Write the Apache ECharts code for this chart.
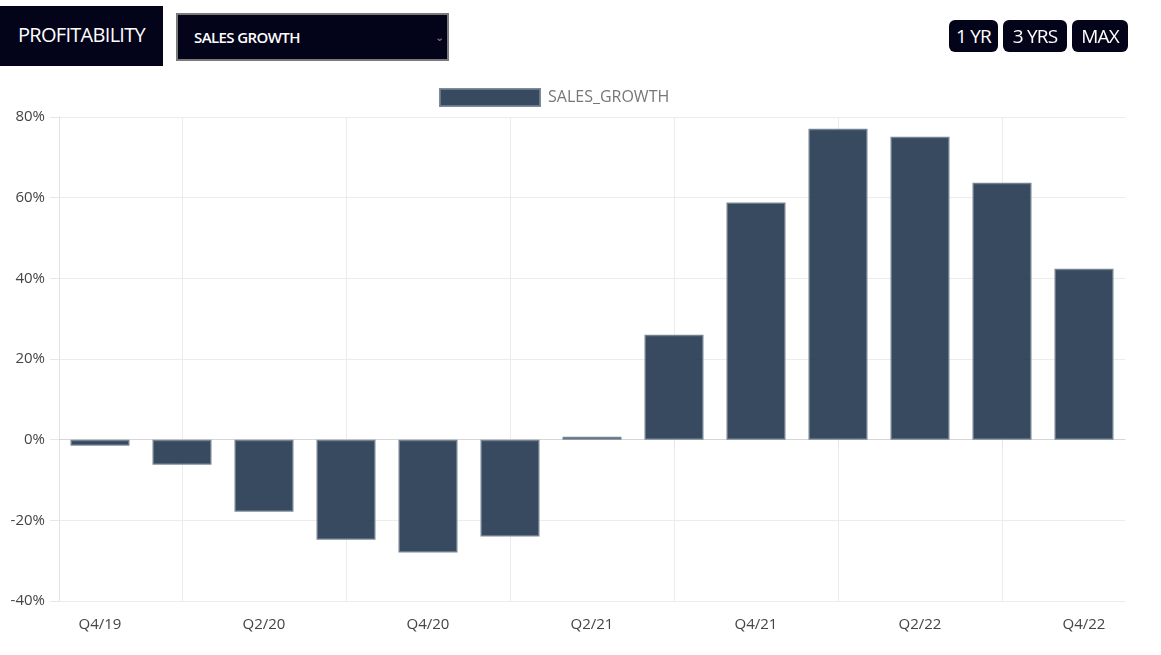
<!DOCTYPE html>
<html>
<head>
<meta charset="utf-8">
<script src="https://cdn.jsdelivr.net/npm/echarts@6/dist/echarts.min.js"></script>
<style>
  html, body { margin: 0; padding: 0; background: #fff; width: 1161px; height: 655px; overflow: hidden; font-family: 'Open Sans', sans-serif; }
  .hdr { position: absolute; background: #03031a; color: #fff; box-sizing: border-box; }
  #prof { left: 0; top: 6px; width: 163px; height: 60px; font-size: 20px; line-height: 58px; text-align: center; letter-spacing: -0.7px; }
  #sel { left: 176px; top: 13px; width: 273px; height: 48px; border: 2px solid #7a7a7a; font-size: 15px; line-height: 44px; padding-left: 16px; font-weight: 600; letter-spacing: -0.6px; }
  #sel .chev { position: absolute; right: 4px; top: 0; color: #888; font-size: 11px; font-weight: 400; }
  .btn { top: 20px; height: 32px; border-radius: 6px; font-size: 19px; line-height: 32px; text-align: center; letter-spacing: -0.8px; }
  #chart { position: absolute; left: 0; top: 0; width: 1161px; height: 655px; }
</style>
</head>
<body>
<div id="chart"></div>
<div class="hdr" id="prof">PROFITABILITY</div>
<div class="hdr" id="sel">SALES GROWTH<span class="chev">&#8964;</span></div>
<div class="hdr btn" style="left:949px;width:49px;">1 YR</div>
<div class="hdr btn" style="left:1003px;width:64px;">3 YRS</div>
<div class="hdr btn" style="left:1072px;width:56px;">MAX</div>
<script>
const categories = ['Q4/19','Q1/20','Q2/20','Q3/20','Q4/20','Q1/21','Q2/21','Q3/21','Q4/21','Q1/22','Q2/22','Q3/22','Q4/22'];
const salesGrowth = [-1.5, -6.2, -17.9, -24.8, -28.0, -24.0, 0.7, 26.0, 58.8, 77.1, 75.1, 63.7, 42.4];
const seriesName = 'SALES_GROWTH';

const FONT = '"Open Sans", Lato, sans-serif';
const chart = echarts.init(document.getElementById('chart'), null, { renderer: 'canvas' });
chart.setOption({
  animation: false,
  legend: {
    top: 83,
    left: 434,
    icon: 'rect',
    itemWidth: 100,
    itemHeight: 17,
    itemGap: 10,
    textStyle: { fontFamily: FONT, fontSize: 16, color: '#777', padding: [0, 0, 0, 3] },
    data: [seriesName]
  },
  grid: { left: 59, right: 36, top: 117, bottom: 54, containLabel: false },
  xAxis: {
    type: 'category',
    data: categories,
    axisLine: { show: true, lineStyle: { color: '#d6d6d6', width: 1 } },
    axisTick: { show: true, alignWithLabel: true, length: 10, interval: (i) => i % 2 === 1, lineStyle: { color: '#e6e6e6' } },
    splitLine: { show: true, alignWithLabel: true, interval: (i) => i % 2 === 1, lineStyle: { color: '#ececec' } },
    axisLabel: { interval: 1, fontFamily: FONT, fontSize: 15, color: '#444', margin: 16 }
  },
  yAxis: {
    type: 'value',
    min: -40, max: 80, interval: 20,
    axisLine: { show: true, lineStyle: { color: '#e3e3e3' } },
    axisTick: { show: true, length: 9, lineStyle: { color: '#e6e6e6' } },
    splitLine: { show: true, lineStyle: { color: '#ececec' } },
    axisLabel: { formatter: '{value}%', fontFamily: FONT, fontSize: 15, color: '#444', margin: 14 }
  },
  series: [{
    name: seriesName,
    type: 'bar',
    data: salesGrowth,
    barWidth: '72%',
    itemStyle: { color: 'rgba(44,64,86,0.95)', borderColor: 'rgba(110,125,142,0.9)', borderWidth: 1.5 }
  }]
});
</script>
</body>
</html>
